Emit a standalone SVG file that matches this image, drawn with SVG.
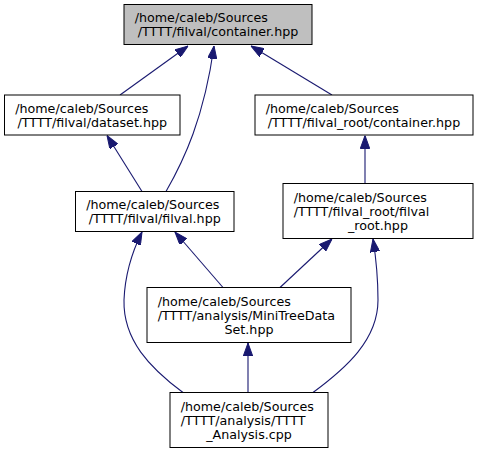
<svg xmlns="http://www.w3.org/2000/svg" width="479" height="453" viewBox="0 0 479 453">
<style>
  .box { fill: #ffffff; stroke: #000000; stroke-width: 1; }
  .main { fill: #bfbfbf; stroke: #000000; stroke-width: 1; }
  text { font-family: "DejaVu Sans", sans-serif; font-size: 12.7px; fill: #000000; }
  .mid { text-anchor: middle; }
  .edge { fill: none; stroke: #191970; stroke-width: 1.1; marker-end: url(#arr); }
</style>
<defs>
  <marker id="arr" markerUnits="userSpaceOnUse" viewBox="0 0 13 9.4" refX="13" refY="4.7" markerWidth="13" markerHeight="9.4" orient="auto">
    <path d="M0,0 L13,4.7 L0,9.4 z" fill="#191970" stroke="#191970" stroke-width="1"/>
  </marker>
</defs>
<g id="connectors">
  <path class="edge" d="M120,95 L188,46"/>
  <path class="edge" d="M166,191.5 C184,160 204,118 214,46"/>
  <path class="edge" d="M332,95 L251,46"/>
  <path class="edge" d="M142,191.5 L107,135.5"/>
  <path class="edge" d="M365,183.5 L365,135.5"/>
  <path class="edge" d="M223,287.5 L175,232"/>
  <path class="edge" d="M280,287.5 L332,239"/>
  <path class="edge" d="M183,392.5 C150,368 123,340 124,300 C125,275 132,252 142,232"/>
  <path class="edge" d="M313,392.5 C346,368 378,340 378,300 C378,275 376,258 373,239"/>
  <path class="edge" d="M248,392.5 L248,343"/>
</g>
<g id="node1">
  <rect class="main" x="124" y="4.5" width="188" height="40"/>
  <text x="134.7" y="22">/home/caleb/Sources</text>
  <text class="mid" x="218" y="36">/TTTT/filval/container.hpp</text>
</g>
<g id="node2">
  <rect class="box" x="4.5" y="95" width="175.5" height="40"/>
  <text x="15.2" y="112.5">/home/caleb/Sources</text>
  <text class="mid" x="92.25" y="126.5">/TTTT/filval/dataset.hpp</text>
</g>
<g id="node3">
  <rect class="box" x="255" y="95" width="218" height="40"/>
  <text x="265.7" y="112.5">/home/caleb/Sources</text>
  <text class="mid" x="364" y="126.5">/TTTT/filval_root/container.hpp</text>
</g>
<g id="node4">
  <rect class="box" x="75.5" y="191.5" width="158.5" height="40"/>
  <text x="86.2" y="209">/home/caleb/Sources</text>
  <text class="mid" x="154.75" y="223">/TTTT/filval/filval.hpp</text>
</g>
<g id="node5">
  <rect class="box" x="283" y="183.5" width="190" height="55"/>
  <text x="293.7" y="201.5">/home/caleb/Sources</text>
  <text x="293.7" y="215.5">/TTTT/filval_root/filval</text>
  <text class="mid" x="378" y="229.5">_root.hpp</text>
</g>
<g id="node6">
  <rect class="box" x="147" y="287.5" width="204" height="55"/>
  <text x="157.7" y="305.5">/home/caleb/Sources</text>
  <text x="157.7" y="319.5">/TTTT/analysis/MiniTreeData</text>
  <text class="mid" x="249" y="333.5">Set.hpp</text>
</g>
<g id="node7">
  <rect class="box" x="170" y="392.5" width="158" height="55"/>
  <text x="180.7" y="410.5">/home/caleb/Sources</text>
  <text x="180.7" y="424.5">/TTTT/analysis/TTTT</text>
  <text class="mid" x="249" y="438.5">_Analysis.cpp</text>
</g>
</svg>
